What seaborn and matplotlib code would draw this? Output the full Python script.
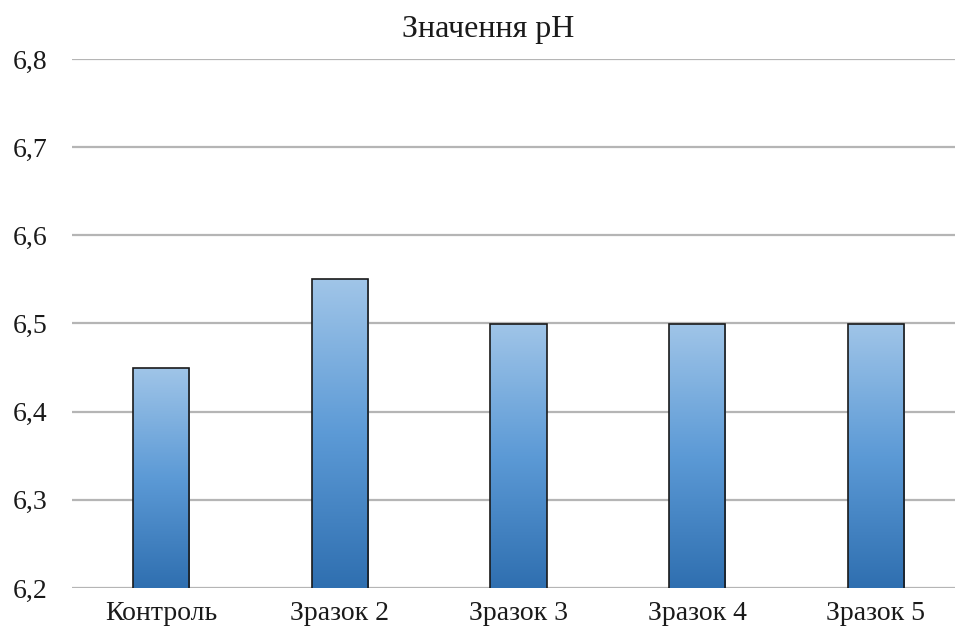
import numpy as np
import pandas as pd
import matplotlib
matplotlib.use("Agg")
import matplotlib.pyplot as plt
from matplotlib.colors import LinearSegmentedColormap
from matplotlib.ticker import FuncFormatter, MultipleLocator
import seaborn as sns

categories = ["Контроль", "Зразок 2", "Зразок 3", "Зразок 4", "Зразок 5"]
ph_values = [6.45, 6.55, 6.50, 6.50, 6.50]
title = "Значення pH"

sns.set_theme(style="white")
plt.rcParams["font.family"] = ["Liberation Serif", "DejaVu Serif"]

df = pd.DataFrame({"sample": categories, "ph": ph_values})

fig = plt.figure(figsize=(9.55, 6.37), dpi=100)
ax = fig.add_axes([72 / 955, 1 - 588 / 637, (965 - 72) / 955, (588 - 59) / 637])

sns.barplot(data=df, x="sample", y="ph", ax=ax, width=0.315,
            color="#5b9bd5", edgecolor="#1a1a1a", linewidth=1.2, zorder=3)

ymin, ymax = 6.2, 6.8
ax.set_ylim(ymin, ymax)
ax.set_xlim(-0.5, len(categories) - 0.5)

# vertical gradient fill clipped to each bar
cmap = LinearSegmentedColormap.from_list("bar", ["#2f6fb0", "#5c9ad6", "#a0c5e8"])
grad = np.linspace(0, 1, 256).reshape(-1, 1)
for patch in ax.patches:
    x0, y0 = patch.get_x(), ymin
    w, top = patch.get_width(), patch.get_y() + patch.get_height()
    patch.set_facecolor("none")
    im = ax.imshow(grad, cmap=cmap, origin="lower", aspect="auto",
                   extent=(x0, x0 + w, y0, top), zorder=2.5)
    im.set_clip_path(patch)

ax.yaxis.set_major_locator(MultipleLocator(0.1))
ax.yaxis.set_major_formatter(FuncFormatter(lambda v, p: f"{v:.1f}".replace(".", ",")))
ax.grid(axis="y", color="#b5b5b5", linewidth=1.6, zorder=0)
ax.set_axisbelow(True)
for s in ax.spines.values():
    s.set_visible(False)

ax.set_xlabel("")
ax.set_ylabel("")
ax.tick_params(axis="both", length=0, labelsize=20, colors="#1a1a1a")
ax.tick_params(axis="y", pad=18)
ax.tick_params(axis="x", pad=9)

fig.text(488 / 955, 1 - 29 / 637, title, ha="center", va="center",
         fontsize=23, color="#1a1a1a")

fig.savefig("out.png", dpi=100, facecolor="white")
